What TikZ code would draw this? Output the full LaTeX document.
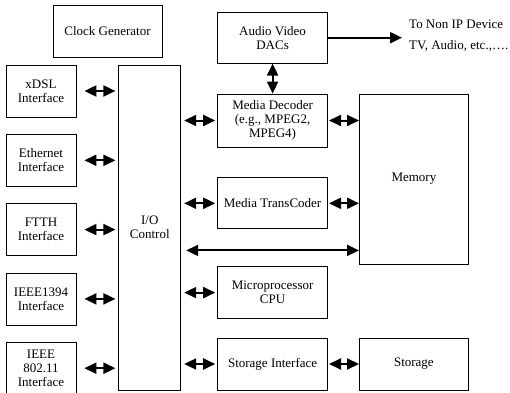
\documentclass[tikz,border=0pt]{standalone}
\usepackage{fontspec}
\setmainfont{Liberation Serif}
\usetikzlibrary{arrows.meta,positioning}
\tikzset{
  unit box/.style={
    rectangle, draw, line width=0.8pt, align=center,
    inner sep=2pt, font=\fontsize{13}{14}\selectfont
  },
  port box/.style={unit box, minimum width=70pt, minimum height=52pt},
  media box/.style={unit box, minimum width=110pt, minimum height=52pt},
  side note/.style={inner sep=0pt, anchor=west, font=\fontsize{13}{14}\selectfont},
  link arrow/.style={{Triangle[length=12pt,width=11pt]}-{Triangle[length=12pt,width=11pt]}, line width=2pt},
  out arrow/.style={-{Triangle[length=12pt,width=11pt]}, line width=2pt}
}

\begin{document}
\begin{tikzpicture}[x=1pt, y=1pt, node distance=16.5pt]
    \useasboundingbox (0,0) rectangle (510,392);
    \node[unit box, minimum width=109pt, minimum height=52pt] (clock) at (107.5,361) {Clock Generator};
    % network interfaces
    \node[port box] (xdsl) at (41,301) {xDSL\\Interface};
    \node[port box, below=of xdsl] (ethernet) {Ethernet\\Interface};
    \node[port box, below=of ethernet] (ftth) {FTTH\\Interface};
    \node[port box, below=of ftth] (firewire) {IEEE1394\\Interface};
    \node[port box, below=of firewire] (wifi) {IEEE\\802.11\\Interface};
    \node[unit box, minimum width=62pt, minimum height=325pt, anchor=north west] (io)
      at ([xshift=42pt]xdsl.north east) {I/O\\Control};
    % media units
    \node[media box, minimum height=53pt, anchor=north west] (decoder)
      at ([xshift=36pt,yshift=-29pt]io.north east) {Media Decoder\\(e.g., MPEG2,\\MPEG4)};
    \node[media box, minimum height=51pt, above=30pt of decoder] (dacs) {Audio Video\\DACs};
    \node[media box, minimum height=51pt, below=30pt of decoder] (transcoder) {Media TransCoder};
    \node[media box, below=37pt of transcoder] (cpu) {Microprocessor\\CPU};
    \node[media box, anchor=south west] (storif) at ([xshift=36pt]io.south east) {Storage Interface};
    \node[unit box, minimum width=109pt, minimum height=170pt, anchor=north west] (memory)
      at ([xshift=31pt]decoder.north east) {Memory};
    \node[unit box, minimum width=109pt, minimum height=52pt, right=31pt of storif] (storage) {Storage};
    % links
    \foreach \port in {xdsl,ethernet,ftth,firewire,wifi}
      \draw[link arrow, shorten <=8pt, shorten >=3pt] (\port) -- (io.west |- \port);
    \foreach \unit in {decoder,transcoder,cpu,storif}
      \draw[link arrow, shorten <=3pt, shorten >=2pt] (io.east |- \unit) -- (\unit);
    \draw[link arrow] (dacs) -- (decoder);
    \draw[link arrow, shorten <=1pt] (decoder) -- (decoder -| memory.west);
    \draw[link arrow, shorten <=1pt] (transcoder) -- (transcoder -| memory.west);
    \draw[link arrow, shorten <=1pt] (storif) -- (storage);
    \coordinate (bus) at ([yshift=14pt]memory.south west);
    \draw[link arrow, shorten <=5pt] (io.east |- bus) -- (bus);
    % output to non IP devices
    \coordinate[right=74pt of dacs.east] (tonip);
    \draw[out arrow] (dacs) -- (tonip);
    \node[side note] (nipdev) at ([xshift=7pt,yshift=13.5pt]tonip) {To Non IP Device};
    \node[side note] (nipex) at ([xshift=7pt,yshift=-8.5pt]tonip) {TV, Audio, etc.,….};
  \end{tikzpicture}
\end{document}
